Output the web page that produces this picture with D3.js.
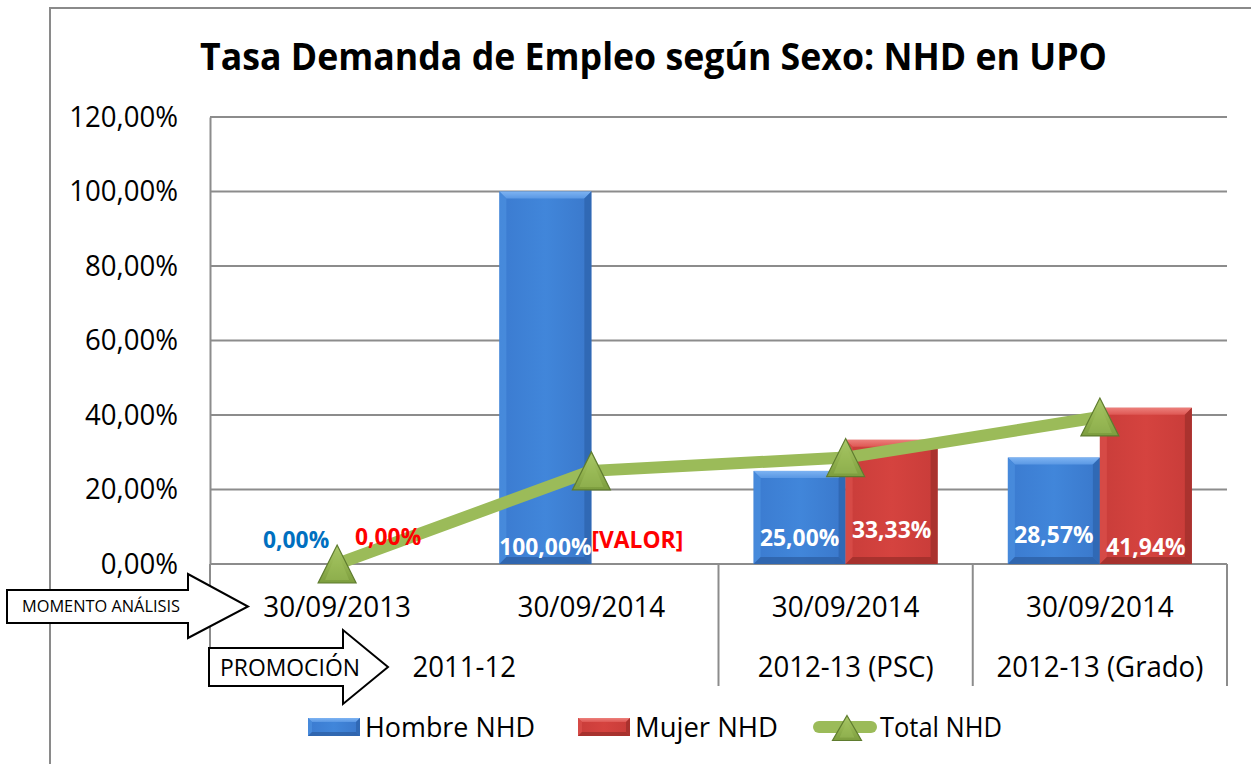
<!DOCTYPE html>
<html>
<head>
<meta charset="utf-8">
<script src="https://cdn.jsdelivr.net/npm/d3@7"></script>
<style>
  html, body { margin: 0; padding: 0; background: #ffffff; }
  svg { display: block; }
  text { font-family: "Open Sans", "Noto Sans", "Liberation Sans", sans-serif; }
</style>
</head>
<body>
<svg id="chart" width="1251" height="764"></svg>
<script>
// ---------------- DATA ----------------
const categories = ["30/09/2013", "30/09/2014", "30/09/2014", "30/09/2014"];
const promociones = ["2011-12", "2011-12", "2012-13 (PSC)", "2012-13 (Grado)"];
const hombreNHD = [0, 100, 25, 28.57];
const mujerNHD = [0, null, 33.33, 41.94];
const totalNHD = [0, 25, 28.57, 39.47];
const yTicks = [0, 20, 40, 60, 80, 100, 120];
const seriesNames = ["Hombre NHD", "Mujer NHD", "Total NHD"];
const titleText = "Tasa Demanda de Empleo según Sexo: NHD en UPO";
const axisNoteMomento = "MOMENTO ANÁLISIS";
const axisNotePromocion = "PROMOCIÓN";
const missingLabel = "[VALOR]";

// ---------------- LAYOUT (not data) ----------------
const plot = { left: 210, right: 1227, top: 117, bottom: 564 };
const hombreLabelLift = [16, 9, 18, 21];
const mujerLabelLift = [19, 16, 26, 9];

const svg = d3.select("#chart");
const defs = svg.append("defs");

const loc = d3.formatLocale({ decimal: ",", thousands: ".", grouping: [3], currency: ["", "€"] });
const fmt2 = loc.format(".2f");
const pct = v => fmt2(v) + "%";

function hGrad(id, stops) {
  const g = defs.append("linearGradient").attr("id", id).attr("x1", 0).attr("x2", 1).attr("y1", 0).attr("y2", 0);
  stops.forEach(s => g.append("stop").attr("offset", s[0]).attr("stop-color", s[1]));
}
function vGrad(id, stops) {
  const g = defs.append("linearGradient").attr("id", id).attr("x1", 0).attr("x2", 0).attr("y1", 0).attr("y2", 1);
  stops.forEach(s => g.append("stop").attr("offset", s[0]).attr("stop-color", s[1]));
}
hGrad("blueFace", [[0, "#3b7bd0"], [0.5, "#4186da"], [1, "#3a78cb"]]);
hGrad("redFace", [[0, "#c93d3a"], [0.5, "#d5433f"], [1, "#c83c39"]]);
vGrad("blueTop", [[0, "#7db3f2"], [1, "#5a98e4"]]);
vGrad("redTop", [[0, "#ec7f7b"], [1, "#de5753"]]);
vGrad("triFill", [[0, "#acca6c"], [0.55, "#92b24f"], [1, "#7c9d3e"]]);

const palette = {
  h: { face: "url(#blueFace)", top: "url(#blueTop)", left: "#4a8ddd", right: "#2f66b0", bottom: "#2d60a6", label: "#0070C0" },
  m: { face: "url(#redFace)", top: "url(#redTop)", left: "#d84e4a", right: "#a5302d", bottom: "#9e2e2b", label: "#FF0000" }
};

function bevelBar(g, x, yt, w, h, pal, bMax) {
  if (h <= 0) return;
  const b = Math.min(bMax, h / 2, w / 2);
  const yb = yt + h;
  g.append("rect").attr("x", x).attr("y", yt).attr("width", w).attr("height", h).attr("fill", pal.face);
  g.append("polygon").attr("points", [[x, yt], [x + w, yt], [x + w - b, yt + b], [x + b, yt + b]].join(" ")).attr("fill", pal.top);
  g.append("polygon").attr("points", [[x, yt], [x + b, yt + b], [x + b, yb - b], [x, yb]].join(" ")).attr("fill", pal.left).attr("opacity", 0.8);
  g.append("polygon").attr("points", [[x + w, yt], [x + w, yb], [x + w - b, yb - b], [x + w - b, yt + b]].join(" ")).attr("fill", pal.right).attr("opacity", 0.85);
  g.append("polygon").attr("points", [[x, yb], [x + b, yb - b], [x + w - b, yb - b], [x + w, yb]].join(" ")).attr("fill", pal.bottom).attr("opacity", 0.8);
}

function triangle(g, cx, cy, w, h) {
  g.append("polygon")
    .attr("points", [[cx, cy - h / 2], [cx + w / 2, cy + h / 2], [cx - w / 2, cy + h / 2]].join(" "))
    .attr("fill", "url(#triFill)").attr("stroke", "#5f7c2f").attr("stroke-width", 1.2);
  g.append("polygon")
    .attr("points", [[cx, cy - h / 2 + 6], [cx + w / 2 - 7, cy + h / 2 - 3], [cx - w / 2 + 7, cy + h / 2 - 3]].join(" "))
    .attr("fill", "#a0c05e").attr("opacity", 0.45);
}

function condense(sel, factor) {
  sel.each(function () {
    const n = this.getComputedTextLength();
    d3.select(this).attr("textLength", n * factor).attr("lengthAdjust", "spacingAndGlyphs");
  });
}
function fitTo(sel, w) {
  sel.attr("textLength", w).attr("lengthAdjust", "spacingAndGlyphs");
}

// ---------------- OUTER FRAME ----------------
svg.append("path").attr("d", "M50,764 L50,8 L1251,8").attr("fill", "none").attr("stroke", "#8a8a8a").attr("stroke-width", 2);

// ---------------- TITLE ----------------
const title = svg.append("text").attr("x", 653.5).attr("y", 70).attr("text-anchor", "middle")
  .attr("font-size", 37).attr("font-weight", "bold").attr("fill", "#000").text(titleText);
fitTo(title, 907);

// ---------------- SCALES ----------------
const idx = d3.range(categories.length);
const x0 = d3.scaleBand().domain(idx).range([plot.left, plot.right]).paddingInner(0.2763).paddingOuter(0.13815);
const x1 = d3.scaleBand().domain(["h", "m"]).range([0, x0.bandwidth()]);
const y = d3.scaleLinear().domain([0, 120]).range([plot.bottom, plot.top]);
const cx = i => x0(i) + x0.bandwidth() / 2;

// ---------------- GRID ----------------
const grid = svg.append("g");
grid.selectAll("line").data(yTicks).join("line")
  .attr("x1", plot.left).attr("x2", plot.right)
  .attr("y1", d => y(d)).attr("y2", d => y(d))
  .attr("stroke", "#8c8c8c").attr("stroke-width", 2);

const yAxis = d3.axisLeft(y).tickValues(yTicks).tickFormat(pct).tickSize(0).tickPadding(32);
const yg = svg.append("g").attr("transform", `translate(${plot.left},0)`).call(yAxis);
yg.select(".domain").attr("stroke", "#8c8c8c").attr("stroke-width", 2);
yg.selectAll("text").attr("font-size", 29).attr("fill", "#000").attr("font-family", '"Open Sans", sans-serif');
condense(yg.selectAll("text"), 0.95);

// ---------------- CATEGORY AXIS (multi-level) ----------------
const axisBottomY = 686;
const step = x0.step();
const boundaries = [plot.left];
for (let i = 1; i < categories.length; i++) {
  if (promociones[i] !== promociones[i - 1]) boundaries.push(plot.left + step * i);
}
boundaries.push(plot.right);
svg.append("g").selectAll("line").data(boundaries).join("line")
  .attr("x1", d => d).attr("x2", d => d).attr("y1", plot.bottom).attr("y2", axisBottomY)
  .attr("stroke", "#8c8c8c").attr("stroke-width", 2);
svg.append("line").attr("x1", plot.left).attr("x2", plot.right).attr("y1", plot.bottom).attr("y2", plot.bottom)
  .attr("stroke", "#8c8c8c").attr("stroke-width", 2);

const catT = svg.append("g").selectAll("text").data(idx).join("text")
  .attr("x", i => cx(i)).attr("y", 617).attr("text-anchor", "middle")
  .attr("font-size", 29).attr("fill", "#000").text(i => categories[i]);
condense(catT, 0.96);

const groups = [];
idx.forEach(i => {
  const last = groups[groups.length - 1];
  if (last && last.name === promociones[i]) last.end = i; else groups.push({ name: promociones[i], start: i, end: i });
});
const promoT = svg.append("g").selectAll("text").data(groups).join("text")
  .attr("x", g => plot.left + step * (g.start + g.end + 1) / 2).attr("y", 677).attr("text-anchor", "middle")
  .attr("font-size", 29).attr("fill", "#000").text(g => g.name);
condense(promoT, 0.95);

// ---------------- BARS ----------------
const barsG = svg.append("g");
idx.forEach(i => {
  const hv = hombreNHD[i], mv = mujerNHD[i];
  if (hv) bevelBar(barsG.append("g"), x0(i) + x1("h"), y(hv), x1.bandwidth(), y(0) - y(hv), palette.h, 7);
  if (mv) bevelBar(barsG.append("g"), x0(i) + x1("m"), y(mv), x1.bandwidth(), y(0) - y(mv), palette.m, 7);
});

// ---------------- TOTAL LINE ----------------
const line = d3.line().x((d, i) => cx(i)).y(d => y(d));
svg.append("path").datum(totalNHD).attr("d", line)
  .attr("fill", "none").attr("stroke", "#9BBB59").attr("stroke-width", 12).attr("stroke-linejoin", "round");
const mk = svg.append("g");
totalNHD.forEach((v, i) => triangle(mk, cx(i), y(v), 38, 38));

// ---------------- DATA LABELS ----------------
const lab = svg.append("g").attr("font-size", 24).attr("font-weight", "bold").attr("text-anchor", "middle");
idx.forEach(i => {
  const hv = hombreNHD[i], mv = mujerNHD[i];
  const zeroShift = hv === 0 ? 5 : 0;
  lab.append("text").attr("x", x0(i) + x1("h") + x1.bandwidth() / 2 + zeroShift).attr("y", y(0) - hombreLabelLift[i])
    .attr("fill", hv ? "#ffffff" : palette.h.label).text(hv == null ? missingLabel : pct(hv));
  const zeroShiftM = mv === 0 ? 5 : 0;
  lab.append("text").attr("x", x0(i) + x1("m") + x1.bandwidth() / 2 + zeroShiftM).attr("y", y(0) - mujerLabelLift[i])
    .attr("fill", mv ? "#ffffff" : palette.m.label).text(mv == null ? missingLabel : pct(mv));
});
condense(lab.selectAll("text"), 0.95);

// ---------------- AXIS NOTE ARROWS ----------------
function blockArrow(x0a, x1a, yTop, yBot, headTop, headBot, tipX) {
  const yc = (yTop + yBot) / 2;
  svg.append("polygon")
    .attr("points", [[x0a, yTop], [x1a, yTop], [x1a, headTop], [tipX, yc], [x1a, headBot], [x1a, yBot], [x0a, yBot]].join(" "))
    .attr("fill", "#ffffff").attr("stroke", "#000").attr("stroke-width", 2).attr("stroke-linejoin", "miter");
}
blockArrow(7, 188, 590, 623, 574, 638, 248);
const t1 = svg.append("text").attr("x", 101).attr("y", 612).attr("text-anchor", "middle").attr("font-size", 16).attr("fill", "#000").text(axisNoteMomento);
fitTo(t1, 158);
blockArrow(209, 343, 648, 686, 630, 704, 388);
const t2 = svg.append("text").attr("x", 290).attr("y", 676).attr("text-anchor", "middle").attr("font-size", 23).attr("fill", "#000").text(axisNotePromocion);
fitTo(t2, 140);

// ---------------- LEGEND ----------------
const leg = svg.append("g");
let lx = 308;
const ly = 727;
const legendTextTargets = [170, 143, 122];
seriesNames.forEach((name, k) => {
  if (k < 2) {
    bevelBar(leg.append("g"), lx, ly - 9, 52, 18, k === 0 ? palette.h : palette.m, 4);
    lx += 57;
  } else {
    leg.append("line").attr("x1", lx - 2).attr("x2", lx + 50).attr("y1", ly).attr("y2", ly)
      .attr("stroke", "#9BBB59").attr("stroke-width", 12).attr("stroke-linecap", "round");
    triangle(leg, lx + 26, ly + 1, 29, 25);
    lx += 59;
  }
  const t = leg.append("text").attr("x", lx).attr("y", ly + 10).attr("font-size", 27).attr("fill", "#000").text(name);
  fitTo(t, legendTextTargets[k]);
  lx += legendTextTargets[k] + 43;
});
</script>
</body>
</html>
